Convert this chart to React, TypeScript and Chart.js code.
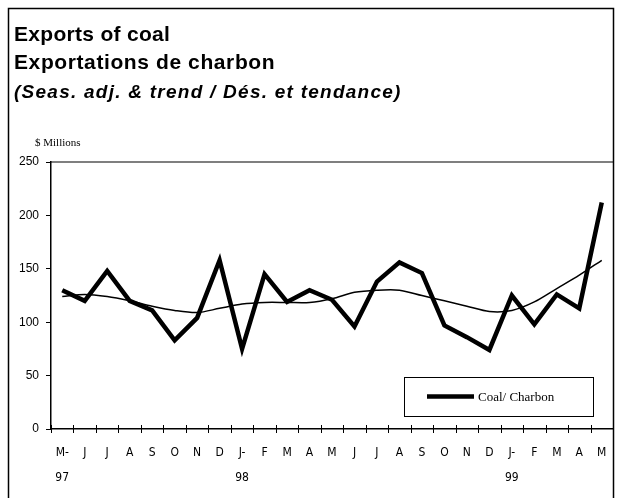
import React, { useEffect, useRef } from "react";
import { Chart, registerables } from "chart.js";

Chart.register(...registerables);

const categories: string[][] = [
  ["M-", "97"], ["J"], ["J"], ["A"], ["S"], ["O"], ["N"], ["D"],
  ["J-", "98"], ["F"], ["M"], ["A"], ["M"], ["J"], ["J"], ["A"], ["S"], ["O"], ["N"], ["D"],
  ["J-", "99"], ["F"], ["M"], ["A"], ["M"],
];

const coalSeries: number[] = [
  130, 120, 148, 120, 111, 83, 104, 158, 75, 145, 119, 130, 121, 96, 138, 156, 146, 97, 86, 74, 125, 98, 126, 113, 212,
];

const trendSeries: number[] = [
  124, 126, 124, 120, 115, 111, 109, 113, 117, 118.5, 118.5, 118.5, 122, 128, 130, 130, 125, 120, 115, 110, 111, 119, 131.5, 144, 158,
];

const yTicks: number[] = [0, 50, 100, 150, 200, 250];

const titleLines: string[] = ["Exports of coal", "Exportations de charbon"];
const subtitleLine = "(Seas. adj. & trend / Dés. et tendance)";
const unitLabel = "$ Millions";
const legendLabel = "Coal/ Charbon";

const decorPlugin = {
  id: "decor",
  afterDraw(chart: any) {
    const ctx = chart.ctx;
    const ca = chart.chartArea;
    const xs = chart.scales.x;
    ctx.save();
    // outer frame
    ctx.strokeStyle = "#000";
    ctx.lineWidth = 1.5;
    ctx.beginPath();
    ctx.moveTo(8.5, 600);
    ctx.lineTo(8.5, 8.5);
    ctx.lineTo(613.5, 8.5);
    ctx.lineTo(613.5, 600);
    ctx.stroke();
    // top of plot area
    ctx.lineWidth = 1.2;
    ctx.beginPath();
    ctx.moveTo(ca.left, ca.top);
    ctx.lineTo(ca.right, ca.top);
    ctx.stroke();
    // crossing tick marks on x axis
    ctx.lineWidth = 1;
    ctx.beginPath();
    for (let i = 0; i <= categories.length; i++) {
      const px = Math.round(xs.getPixelForValue(i - 0.5)) + 0.5;
      ctx.moveTo(px, ca.bottom - 4);
      ctx.lineTo(px, ca.bottom + 4);
    }
    ctx.stroke();
    // titles
    ctx.fillStyle = "#000";
    ctx.textBaseline = "alphabetic";
    ctx.textAlign = "left";
    ctx.font = "bold 21px 'Liberation Sans', Arial, sans-serif";
    try { (ctx as any).letterSpacing = "0.3px"; } catch (e) {}
    ctx.fillText(titleLines[0], 14, 41);
    try { (ctx as any).letterSpacing = "0.6px"; } catch (e) {}
    ctx.fillText(titleLines[1], 14, 69);
    ctx.font = "italic bold 19px 'Liberation Sans', Arial, sans-serif";
    try { (ctx as any).letterSpacing = "1.25px"; } catch (e) {}
    ctx.fillText(subtitleLine, 14, 98);
    try { (ctx as any).letterSpacing = "0px"; } catch (e) {}
    // unit label
    ctx.font = "11px 'Liberation Serif', 'Times New Roman', serif";
    ctx.fillText(unitLabel, 35, 146);
    // legend
    const lx1 = ca.right - 209;
    const lx2 = ca.right - 20;
    const ly1 = ca.bottom - 52;
    const ly2 = ca.bottom - 13;
    ctx.lineWidth = 1;
    ctx.strokeRect(Math.round(lx1) + 0.5, Math.round(ly1) + 0.5, lx2 - lx1, ly2 - ly1);
    const my = (ly1 + ly2) / 2;
    ctx.lineWidth = 4.5;
    ctx.beginPath();
    ctx.moveTo(lx1 + 23, my);
    ctx.lineTo(lx1 + 70, my);
    ctx.stroke();
    ctx.font = "13px 'Liberation Serif', 'Times New Roman', serif";
    ctx.textBaseline = "middle";
    ctx.fillText(legendLabel, lx1 + 74, my + 1);
    ctx.restore();
  },
};

export default function App() {
  const ref = useRef<HTMLCanvasElement | null>(null);
  useEffect(() => {
    if (!ref.current) return;
    const chart = new Chart(ref.current, {
      type: "line",
      data: {
        labels: categories,
        datasets: [
          {
            label: legendLabel,
            data: coalSeries,
            borderColor: "#000",
            borderWidth: 4.5,
            borderJoinStyle: "miter",
            pointRadius: 0,
            tension: 0,
            fill: false,
          },
          {
            label: "Trend",
            data: trendSeries,
            borderColor: "#000",
            borderWidth: 1.5,
            pointRadius: 0,
            tension: 0.3,
            fill: false,
          },
        ],
      },
      options: {
        animation: false,
        responsive: false,
        devicePixelRatio: 1,
        layout: { padding: { left: 14, top: 162, right: 9, bottom: 0 } },
        plugins: {
          legend: { display: false },
          title: { display: false },
          tooltip: { enabled: false },
        },
        scales: {
          x: {
            type: "category",
            offset: true,
            grid: { display: false, drawTicks: false, offset: true },
            border: { display: true, color: "#000", width: 1.5 },
            ticks: {
              autoSkip: false,
              maxRotation: 0,
              minRotation: 0,
              padding: 11,
              color: "#000",
              font: { family: "'Liberation Sans Narrow', 'DejaVu Sans Condensed', sans-serif", size: 12, lineHeight: "25px" },
            },
            afterFit: (s: any) => { s.height = 69; },
          },
          y: {
            min: 0,
            max: 250,
            afterBuildTicks: (s: any) => { s.ticks = yTicks.map((v) => ({ value: v })); },
            grid: { display: true, drawOnChartArea: false, drawTicks: true, tickLength: 5, color: "#000", lineWidth: 1 },
            border: { display: true, color: "#000", width: 1.5 },
            ticks: {
              padding: 7,
              color: "#000",
              font: { family: "'Liberation Sans', Arial, sans-serif", size: 12 },
            },
            afterFit: (s: any) => { s.width = 37; },
          },
        },
      },
      plugins: [decorPlugin],
    } as any);
    return () => chart.destroy();
  }, []);
  return (
    <div style={{ position: "fixed", left: 0, top: 0, width: 622, height: 498, background: "#fff" }}>
      <canvas ref={ref} width={622} height={498} style={{ width: 622, height: 498, display: "block" }} />
    </div>
  );
}
